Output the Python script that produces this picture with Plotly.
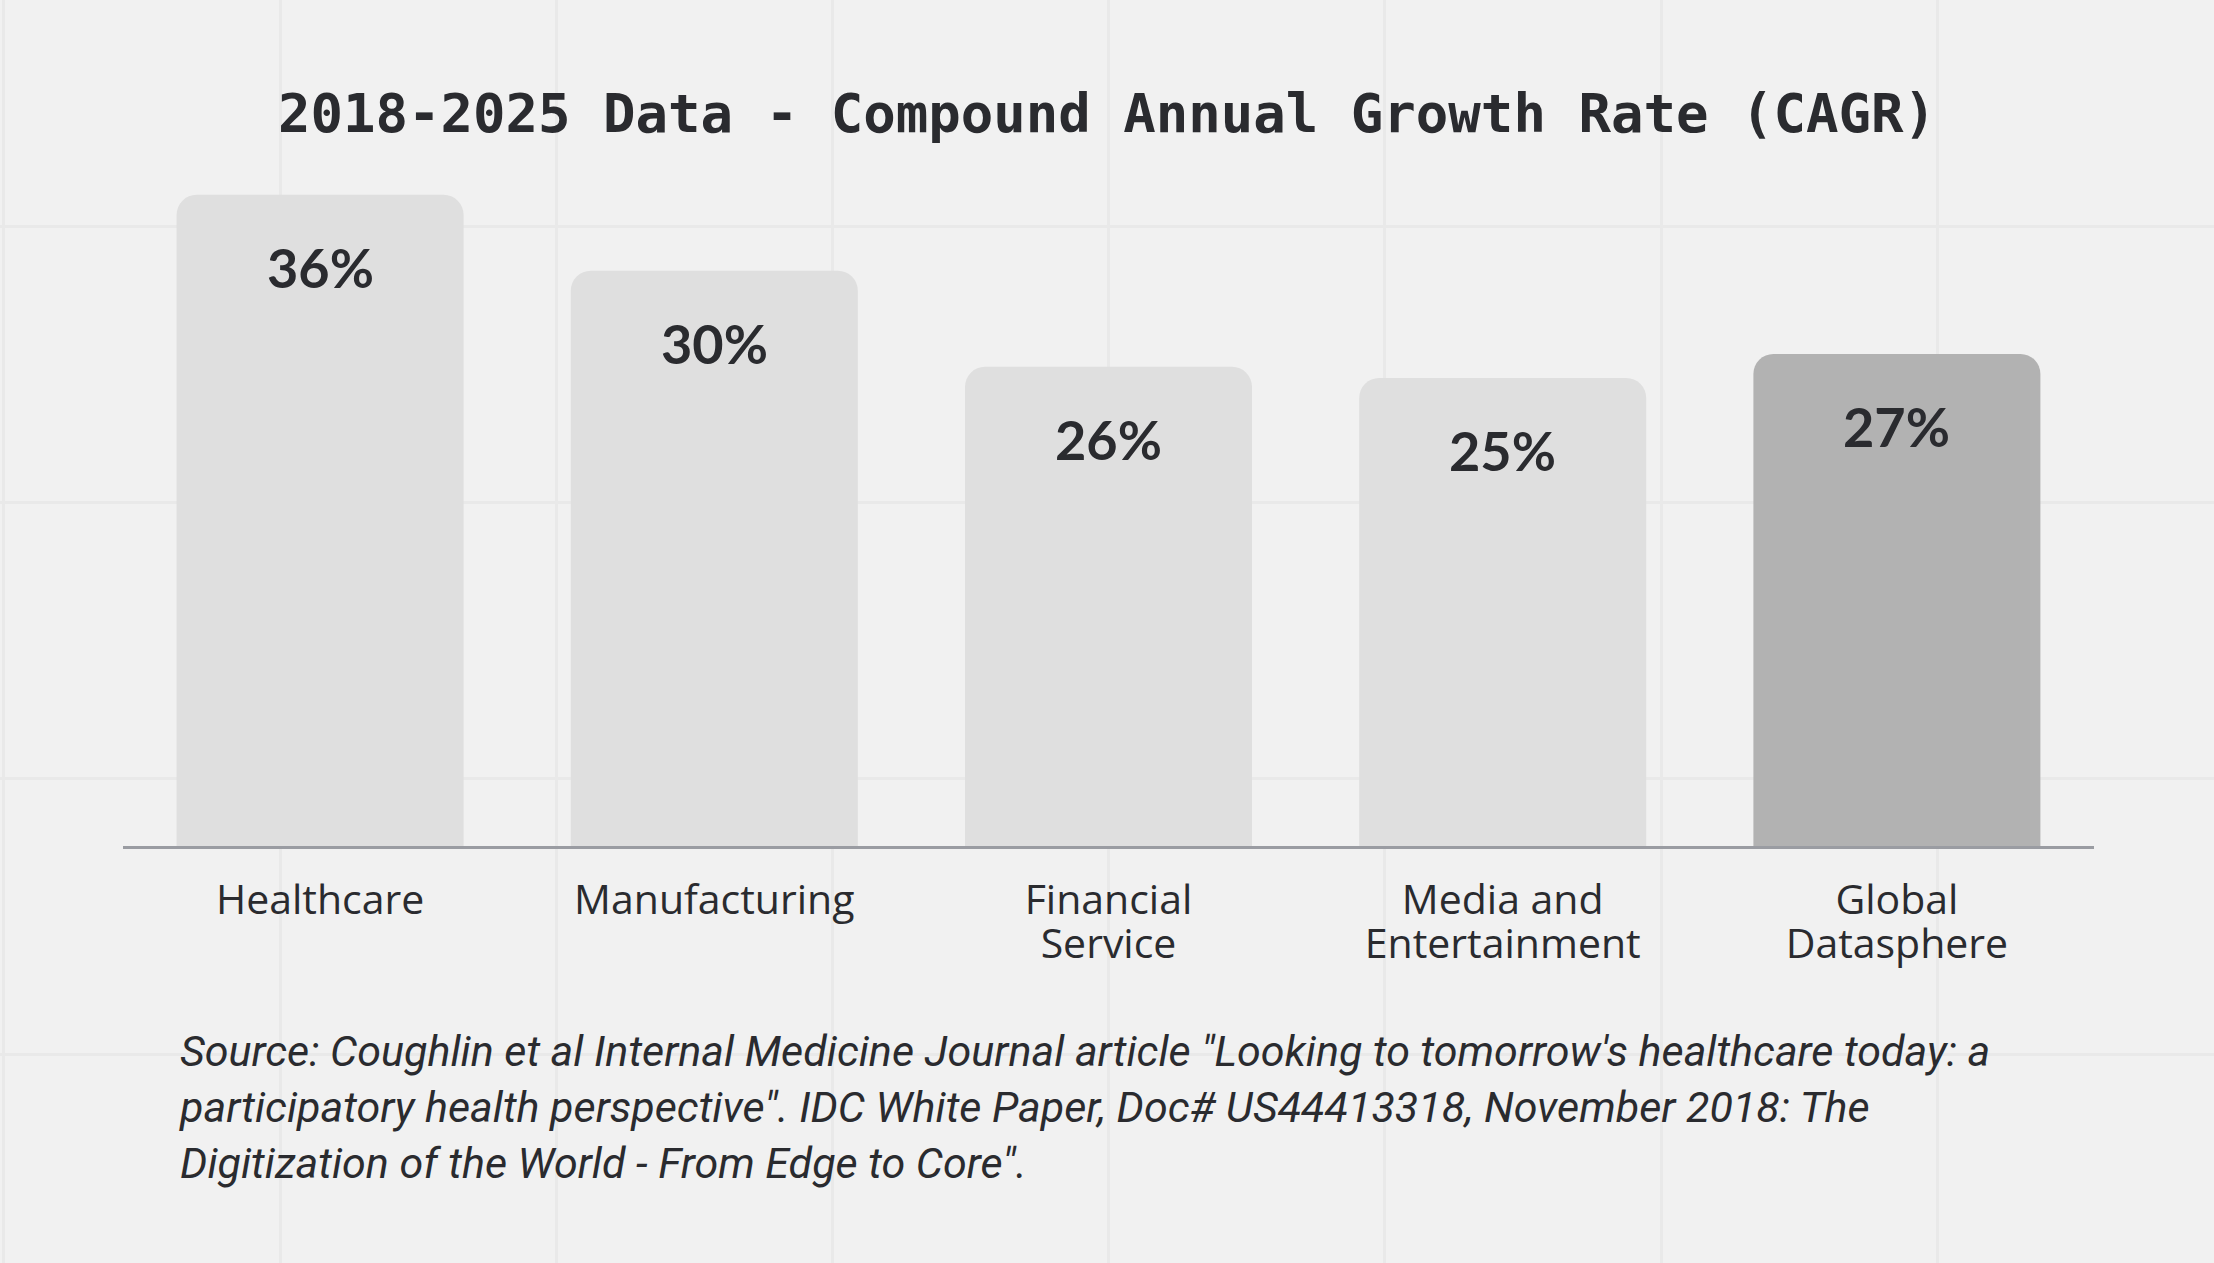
import plotly.graph_objects as go

# ---------------- data ----------------
categories = ["Healthcare", "Manufacturing", "Financial Service",
              "Media and Entertainment", "Global Datasphere"]
tick_line1 = ["Healthcare", "Manufacturing", "Financial", "Media and", "Global"]
tick_line2 = ["", "", "Service", "Entertainment", "Datasphere"]
# bar heights (percent)
bar_values = [35.2, 31.1, 25.9, 25.3, 26.6]
# printed value labels
value_labels = ["36%", "30%", "26%", "25%", "27%"]
bar_colors = ["#dfdfdf", "#dfdfdf", "#dfdfdf", "#dfdfdf", "#b2b2b2"]

title_text = "2018-2025 Data - Compound Annual Growth Rate (CAGR)"
source_lines = [
    "Source: Coughlin et al Internal Medicine Journal article \"Looking to tomorrow's healthcare today: a",
    "participatory health perspective\". IDC White Paper, Doc# US44413318, November 2018: The",
    "Digitization of the World - From Edge to Core\".",
]

W, H = 2214, 1263
TEXT = "#2a2b2f"
TICKFONT = dict(family="Open Sans", size=41, color=TEXT)

fig = go.Figure()

# invisible trace on the full-page background axes (for the decorative grid)
fig.add_trace(go.Scatter(x=[None], y=[None], xaxis="x", yaxis="y",
                         showlegend=False, hoverinfo="skip"))

fig.add_trace(go.Bar(
    x=categories, y=bar_values, xaxis="x2", yaxis="y2",
    marker=dict(color=bar_colors, line=dict(width=0)),
    showlegend=False, hoverinfo="skip",
))

# invisible trace carrying the second line of the category labels
fig.add_trace(go.Scatter(x=categories, y=[None] * len(categories),
                         xaxis="x3", yaxis="y2", mode="markers",
                         showlegend=False, hoverinfo="skip"))

annotations = []
for c, v, t in zip(categories, bar_values, value_labels):
    annotations.append(dict(
        x=c, y=v, xref="x2", yref="y2", text=t, showarrow=False,
        xanchor="center", yanchor="top", yshift=-38,
        font=dict(family="Lato", size=54, color=TEXT, weight=700),
    ))

annotations.append(dict(
    x=177 / W, y=1 - 1024 / H, xref="paper", yref="paper",
    text="<br>".join(source_lines), showarrow=False,
    xanchor="left", yanchor="top", align="left",
    font=dict(family="Roboto", size=43, color=TEXT, style="italic"),
))

fig.update_layout(
    width=W, height=H,
    margin=dict(l=0, r=0, t=0, b=0, pad=0),
    paper_bgcolor="#f1f1f1",
    plot_bgcolor="rgba(0,0,0,0)",
    bargap=0.272,
    barcornerradius=20,
    title=dict(text=title_text, x=0.5, xanchor="center",
               y=1 - 113 / H, yanchor="middle", yref="container",
               font=dict(family="DejaVu Sans Mono", size=54, color=TEXT, weight=700)),
    xaxis=dict(domain=[0, 1], range=[0, W], showgrid=True, gridcolor="#e9e9e9",
               gridwidth=3, tick0=280, dtick=276.2, zeroline=False,
               showticklabels=False, ticks="", showline=False, fixedrange=True),
    yaxis=dict(domain=[0, 1], range=[H, 0], showgrid=True, gridcolor="#e9e9e9",
               gridwidth=3, tick0=226, dtick=276.2, zeroline=False,
               showticklabels=False, ticks="", showline=False, fixedrange=True),
    xaxis2=dict(domain=[123 / W, 2094 / W], anchor="y2", type="category",
                categoryarray=categories, categoryorder="array",
                range=[-0.5, len(categories) - 0.5],
                tickvals=categories, ticktext=tick_line1,
                showline=True, linecolor="#9a9ca2", linewidth=3,
                showgrid=False, zeroline=False, ticks="",
                ticklabelstandoff=16, tickfont=TICKFONT),
    xaxis3=dict(overlaying="x2", anchor="y2", side="bottom", type="category",
                categoryarray=categories, categoryorder="array",
                range=[-0.5, len(categories) - 0.5],
                tickvals=categories, ticktext=tick_line2,
                showline=False, showgrid=False, zeroline=False, ticks="",
                ticklabelstandoff=70, tickfont=TICKFONT),
    yaxis2=dict(domain=[(H - 846) / H, (H - 106) / H], anchor="x2",
                range=[0, 40], visible=False, showgrid=False, zeroline=False),
    annotations=annotations,
)

fig.write_html("out.html", config={"displayModeBar": False},
               post_script="document.body.style.margin='0';")
